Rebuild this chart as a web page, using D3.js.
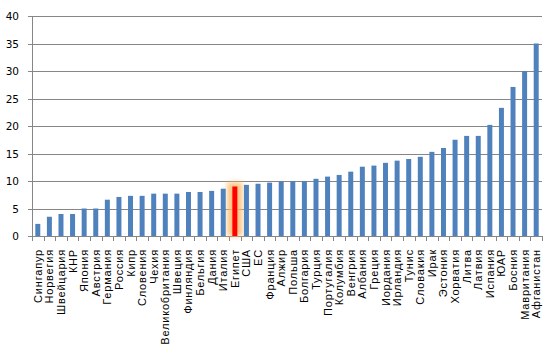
<!DOCTYPE html>
<html><head><meta charset="utf-8">
<script src="https://cdn.jsdelivr.net/npm/d3@7"></script>
<style>body{margin:0;background:#fff;}svg{display:block;}</style>
</head><body>
<script>
const categories = ["Сингапур","Норвегия","Швейцария","КНР","Япония","Австрия","Германия","Россия","Кипр","Словения","Чехия","Великобритания","Швеция","Финляндия","Бельгия","Дания","Италия","Египет","США","ЕС","Франция","Алжир","Польша","Болгария","Турция","Португалия","Колумбия","Венгрия","Албания","Греция","Иордания","Ирландия","Тунис","Словакия","Ирак","Эстония","Хорватия","Литва","Латвия","Испания","ЮАР","Босния","Мавритания","Афганистан"];
const values = [2.2,3.5,4.0,4.0,5.0,5.0,6.6,7.1,7.3,7.3,7.7,7.7,7.7,8.0,8.0,8.2,8.6,9.0,9.3,9.5,9.7,9.9,10.0,10.0,10.4,10.8,11.1,11.7,12.6,12.8,13.3,13.7,14.0,14.4,15.3,16.0,17.5,18.2,18.2,20.2,23.3,27.1,30.0,35.0];
const yTicks = [0,5,10,15,20,25,30,35,40];
const highlight = "Египет";

const W = 550, H = 360;
const m = {left: 32, right: 8, top: 16, bottom: 124};
const svg = d3.select("body").append("svg").attr("width", W).attr("height", H);

const defs = svg.append("defs");
const f = defs.append("filter").attr("id","glow").attr("x","-1").attr("y","-1").attr("width","3").attr("height","3");
f.append("feGaussianBlur").attr("stdDeviation", 2.8);

const x = d3.scaleBand().domain(categories).range([m.left, W - m.right]).paddingInner(0.57).paddingOuter(0.285);
const y = d3.scaleLinear().domain([0, 40]).range([H - m.bottom, m.top]);

// gridlines
svg.append("g").selectAll("line").data(yTicks).join("line")
  .attr("x1", m.left - 4).attr("x2", W - m.right)
  .attr("y1", d => Math.round(y(d)) + 0.5).attr("y2", d => Math.round(y(d)) + 0.5)
  .attr("stroke", "#868686").attr("stroke-width", 1);

// y axis line
svg.append("line").attr("x1", m.left + 0.5).attr("x2", m.left + 0.5)
  .attr("y1", Math.round(y(40))).attr("y2", Math.round(y(0)) + 0.5)
  .attr("stroke", "#868686");

// y tick labels
svg.append("g").selectAll("text").data(yTicks).join("text")
  .attr("x", m.left - 13).attr("y", d => y(d) + 4)
  .attr("text-anchor", "end")
  .attr("font-family", "DejaVu Sans, Verdana, sans-serif").attr("font-size", 10.5)
  .attr("fill", "#000").text(d => d);

// x ticks at category boundaries
const step = x.step();
const bounds = d3.range(categories.length + 1).map(i => m.left + i * step);
svg.append("g").selectAll("line").data(bounds).join("line")
  .attr("x1", d => Math.round(d) + 0.5).attr("x2", d => Math.round(d) + 0.5)
  .attr("y1", Math.round(y(0))).attr("y2", Math.round(y(0)) + 5)
  .attr("stroke", "#868686");

// glow behind highlighted bar
const hv = values[categories.indexOf(highlight)];
svg.append("rect")
  .attr("x", x(highlight) - 5).attr("width", x.bandwidth() + 10)
  .attr("y", y(hv) - 4).attr("height", y(0) - y(hv) + 4)
  .attr("fill", "#fbb96b").attr("opacity", 0.85).attr("filter", "url(#glow)");

// bars
svg.append("g").selectAll("rect").data(categories).join("rect")
  .attr("x", d => x(d)).attr("width", x.bandwidth())
  .attr("y", (d, i) => y(values[i])).attr("height", (d, i) => y(0) - y(values[i]))
  .attr("fill", d => d === highlight ? "#ff0000" : "#4f81bd");

// category labels
svg.append("g").selectAll("text").data(categories).join("text")
  .attr("transform", d => `translate(${x(d) + x.bandwidth() / 2 + 4},${y(0) + 13}) rotate(-90)`)
  .attr("text-anchor", "end")
  .attr("font-family", "Liberation Sans, Arial, sans-serif").attr("font-size", 11)
  .attr("letter-spacing", 0.8)
  .attr("fill", "#000").text(d => d);
</script>
</body></html>
